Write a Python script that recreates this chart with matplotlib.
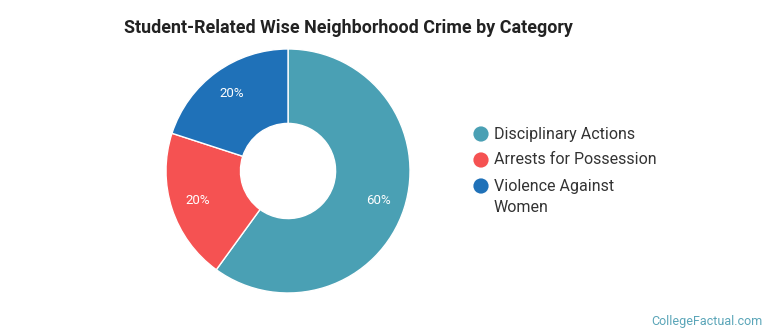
import matplotlib.pyplot as plt

categories = ["Disciplinary Actions", "Arrests for Possession", "Violence Against\nWomen"]
shares = [60, 20, 20]
colors = ["#4aa0b4", "#f55252", "#1f71b8"]

plt.rcParams["font.family"] = ["Roboto", "DejaVu Sans"]

fig = plt.figure(figsize=(7.7, 3.35), dpi=100)
ax = fig.add_axes([0.2156, 0.1254, 0.3169, 0.7284])

wedges, texts, autotexts = ax.pie(
    shares, colors=colors, startangle=90, counterclock=False,
    autopct="%d%%", pctdistance=0.78,
    wedgeprops=dict(width=0.61, edgecolor="white", linewidth=1),
    textprops=dict(color="white", fontsize=9.5),
)
ax.set_xlim(-1, 1)
ax.set_ylim(-1, 1)

fig.text(0.453, 0.915, "Student-Related Wise Neighborhood Crime by Category",
         ha="center", va="center", fontsize=12.9, fontweight="bold", color="#222222")

# legend drawn by hand in pixel coordinates (y from top)
lax = fig.add_axes([0, 0, 1, 1], zorder=-1)
lax.set_xlim(0, 770)
lax.set_ylim(335, 0)
lax.axis("off")
y = 134
for label, c in zip(categories, colors):
    lax.scatter([481], [y], s=120, color=c, edgecolors="none")
    for k, line in enumerate(label.split("\n")):
        lax.text(494, y + 22 * k, line, va="center", ha="left",
                 fontsize=11.5, color="#333333")
    y += 26

fig.text(0.99, 0.04, "CollegeFactual.com", ha="right", va="center",
         fontsize=9, color="#5aa5b8")

fig.savefig("out.png", dpi=100)
